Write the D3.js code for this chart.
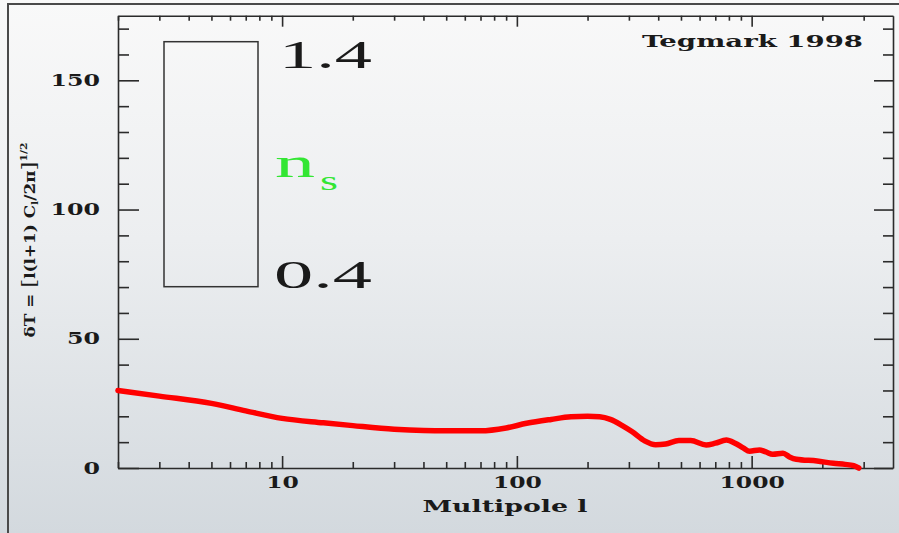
<!DOCTYPE html>
<html>
<head>
<meta charset="utf-8">
<script src="https://cdn.jsdelivr.net/npm/d3@7"></script>
<style>
  html, body { margin: 0; padding: 0; background: #eef0f2; }
  svg { display: block; }
</style>
</head>
<body>
<script>
// CMB temperature power spectrum, Tegmark 1998
const multipole = [2, 3, 5, 7, 10, 15, 20, 30, 40, 50, 70, 90, 110, 140, 170, 200, 225, 250, 280, 310,
                   350, 390, 430, 490, 550, 640, 700, 780, 850, 920, 980, 1080, 1150, 1230, 1360, 1450,
                   1550, 1900, 2230, 2500, 2720, 2860];
const deltaT    = [30, 27.8, 25, 22.1, 19.2, 17.5, 16.4, 15.0, 14.5, 14.4, 14.4, 15.5, 17.3, 18.8, 19.8, 20.0, 19.8, 18.8, 16.5, 14.0,
                   10.5, 9.0, 9.3, 10.6, 10.6, 8.9, 9.6, 10.8, 9.6, 7.8, 6.5, 7.0, 6.2, 5.3, 5.7, 4.3,
                   3.4, 2.7, 1.8, 1.4, 0.9, 0.0];

const yMajorTicks = [0, 50, 100, 150];
const yMinorTicks = [10, 20, 30, 40, 60, 70, 80, 90, 110, 120, 130, 140, 160, 170];
const xMajorTicks = [10, 100, 1000];
const xMinorTicks = [2, 3, 4, 5, 6, 7, 8, 9, 20, 30, 40, 50, 60, 70, 80, 90,
                     200, 300, 400, 500, 600, 700, 800, 900, 2000, 3000];

const nsRange = ["1.4", "0.4"];
const credit = "Tegmark 1998";
const xTitle = "Multipole l";

const W = 899, H = 533;
const box = { left: 118, right: 893, top: 15.7, bottom: 468 };

const svg = d3.select("body").append("svg").attr("width", W).attr("height", H);

const defs = svg.append("defs");
const grad = defs.append("linearGradient").attr("id", "bg").attr("x1", 0).attr("y1", 0).attr("x2", 0).attr("y2", 1);
grad.append("stop").attr("offset", "0%").attr("stop-color", "#f9f9f9");
grad.append("stop").attr("offset", "45%").attr("stop-color", "#eceef0");
grad.append("stop").attr("offset", "100%").attr("stop-color", "#d3d9de");
svg.append("rect").attr("width", W).attr("height", H).attr("fill", "url(#bg)");

// outer frame (top and left edges)
svg.append("path").attr("d", `M8,${H} L8,4 L${W},4`).attr("fill", "none")
  .attr("stroke", "#4a4a4a").attr("stroke-width", 2);

const x = d3.scaleLog().domain([2, 4000]).range([box.left, box.right]);
const y = d3.scaleLinear().domain([0, 175]).range([box.bottom, box.top]);

const axisColor = "#2b2b2b";
const tickFont = "'DejaVu Serif', serif";

function styleAxis(g) {
  g.selectAll("path, line").attr("stroke", axisColor).attr("stroke-width", 1.6);
}

// left axis
const gl = svg.append("g").attr("transform", `translate(${box.left},0)`);
gl.call(d3.axisLeft(y).tickValues(yMajorTicks).tickSize(-21).tickSizeOuter(0).tickPadding(18)
  .tickFormat(d3.format("d")));
gl.append("g").call(d3.axisLeft(y).tickValues(yMinorTicks).tickSize(-11).tickFormat(""))
  .select(".domain").remove();
styleAxis(gl);
gl.selectAll("text").attr("font-family", tickFont).attr("font-weight", "bold")
  .attr("font-size", 16).attr("fill", "#1a1a1a")
  .attr("textLength", d => String(d).length * 16.5).attr("lengthAdjust", "spacingAndGlyphs");

// right axis
const gr = svg.append("g").attr("transform", `translate(${box.right},0)`);
gr.call(d3.axisRight(y).tickValues(yMajorTicks).tickSize(-19).tickSizeOuter(0).tickFormat(""));
gr.append("g").call(d3.axisRight(y).tickValues(yMinorTicks).tickSize(-10).tickFormat(""))
  .select(".domain").remove();
styleAxis(gr);

// bottom axis
const gb = svg.append("g").attr("transform", `translate(0,${box.bottom})`);
gb.call(d3.axisBottom(x).tickValues(xMajorTicks).tickSize(-12).tickSizeOuter(0).tickPadding(9)
  .tickFormat(d3.format("d")));
gb.append("g").call(d3.axisBottom(x).tickValues(xMinorTicks).tickSize(-6).tickFormat(""))
  .select(".domain").remove();
styleAxis(gb);
gb.selectAll("text").attr("font-family", tickFont).attr("font-weight", "bold")
  .attr("font-size", 16).attr("fill", "#1a1a1a")
  .attr("textLength", d => String(d).length * 16.3).attr("lengthAdjust", "spacingAndGlyphs");

// top axis
const gt = svg.append("g").attr("transform", `translate(0,${box.top})`);
gt.call(d3.axisTop(x).tickValues(xMajorTicks).tickSize(-11).tickSizeOuter(0).tickFormat(""));
gt.append("g").call(d3.axisTop(x).tickValues(xMinorTicks).tickSize(-5).tickFormat(""))
  .select(".domain").remove();
styleAxis(gt);

// axis titles
svg.append("text").attr("x", 505).attr("y", 512).attr("text-anchor", "middle")
  .attr("font-family", tickFont).attr("font-weight", "bold").attr("font-size", 16)
  .attr("fill", "#1a1a1a").attr("textLength", 165).attr("lengthAdjust", "spacingAndGlyphs")
  .text(xTitle);

const yl = svg.append("text").attr("transform", "translate(35,240) rotate(-90)")
  .attr("text-anchor", "middle").attr("font-family", tickFont).attr("font-weight", "bold")
  .attr("font-size", 14).attr("fill", "#1a1a1a")
  .attr("textLength", 195).attr("lengthAdjust", "spacingAndGlyphs");
yl.append("tspan").text("δT = ");
yl.append("tspan").attr("font-size", 19).attr("font-weight", "normal").text("[");
yl.append("tspan").text("l(l+1) C");
yl.append("tspan").attr("font-size", 9).attr("dy", 3).text("l");
yl.append("tspan").attr("dy", -3).text("/2π");
yl.append("tspan").attr("font-size", 19).attr("font-weight", "normal").text("]");
yl.append("tspan").attr("font-size", 9).attr("dy", -8).text("1/2");

// credit
svg.append("text").attr("x", 642).attr("y", 47).attr("font-family", tickFont)
  .attr("font-weight", "bold").attr("font-size", 17).attr("fill", "#1a1a1a")
  .attr("textLength", 221).attr("lengthAdjust", "spacingAndGlyphs").text(credit);

// n_s colour key
svg.append("rect").attr("x", 164).attr("y", 41.7).attr("width", 94).attr("height", 245)
  .attr("fill", "none").attr("stroke", "#333").attr("stroke-width", 1.5);
const keyFont = "'Liberation Serif', 'Times New Roman', serif";
svg.append("text").attr("x", 279).attr("y", 68).attr("font-family", keyFont).attr("font-size", 39)
  .attr("fill", "#1a1a1a").attr("textLength", 93).attr("lengthAdjust", "spacingAndGlyphs").text(nsRange[0]);
svg.append("text").attr("x", 274).attr("y", 288).attr("font-family", keyFont).attr("font-size", 39)
  .attr("fill", "#1a1a1a").attr("textLength", 98).attr("lengthAdjust", "spacingAndGlyphs").text(nsRange[1]);
svg.append("text").attr("x", 275).attr("y", 177).attr("font-family", keyFont).attr("font-size", 39)
  .attr("fill", "#33e633").attr("textLength", 40).attr("lengthAdjust", "spacingAndGlyphs").text("n");
svg.append("text").attr("x", 320).attr("y", 190).attr("font-family", keyFont).attr("font-size", 27)
  .attr("fill", "#33e633").attr("textLength", 18).attr("lengthAdjust", "spacingAndGlyphs").text("s");

// spectrum
const pts = multipole.map((l, i) => [l, deltaT[i]]);
svg.append("path").datum(pts)
  .attr("d", d3.line().x(d => x(d[0])).y(d => y(d[1])).curve(d3.curveMonotoneX))
  .attr("fill", "none").attr("stroke", "#ff0000").attr("stroke-width", 5.5)
  .attr("stroke-linejoin", "round").attr("stroke-linecap", "round");
</script>
</body>
</html>
